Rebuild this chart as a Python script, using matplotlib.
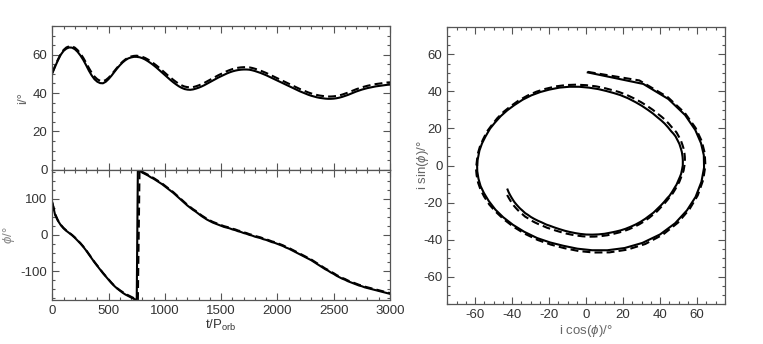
import numpy as np
import matplotlib
matplotlib.use("Agg")
import matplotlib.pyplot as plt
from matplotlib.ticker import MultipleLocator

plt.rcParams['font.family'] = ['Liberation Sans', 'DejaVu Sans']
plt.rcParams['mathtext.fontset'] = 'custom'
plt.rcParams['mathtext.rm'] = 'Liberation Sans'
plt.rcParams['mathtext.it'] = 'Liberation Sans:italic'
plt.rcParams['axes.unicode_minus'] = False

# sample times (t / P_orb); 750/760 bracket the phase wrap
t = [0, 25, 50, 75, 100, 125, 150, 175, 200, 225, 250, 275, 300, 325, 350, 375,
     400, 425, 450, 475, 500, 525, 550, 575, 600, 625, 650, 675, 700, 725, 750, 760,
     775, 800, 825, 850, 875, 900, 925, 950, 975, 1000, 1025, 1050, 1075, 1100, 1125,
     1150, 1175, 1200, 1225, 1250, 1275, 1300, 1325, 1350, 1375, 1400, 1425, 1450,
     1475, 1500, 1525, 1550, 1575, 1600, 1625, 1650, 1675, 1700, 1725, 1750, 1775,
     1800, 1825, 1850, 1875, 1900, 1925, 1950, 1975, 2000, 2025, 2050, 2075, 2100,
     2125, 2150, 2175, 2200, 2225, 2250, 2275, 2300, 2325, 2350, 2375, 2400, 2425,
     2450, 2475, 2500, 2525, 2550, 2575, 2600, 2625, 2650, 2675, 2700, 2725, 2750,
     2775, 2800, 2825, 2850, 2875, 2900, 2925, 2950, 2975, 3000]

# inclination (deg), solid curve
incl_solid = [50.3, 53.8, 57.1, 60.0, 62.0, 63.2, 63.8, 63.7, 62.9, 61.5, 59.6, 57.3,
              54.6, 51.7, 49.2, 47.2, 45.9, 45.2, 45.1, 45.9, 47.3, 49.0, 50.9, 52.8,
              54.5, 56.0, 57.2, 58.1, 58.6, 58.9, 58.9, 58.8,
              58.7, 58.2, 57.5, 56.6, 55.6, 54.5, 53.3, 52.0, 50.7, 49.4, 48.1, 46.8,
              45.6, 44.5, 43.5, 42.7, 42.1, 41.8, 41.7, 41.9, 42.3, 42.8, 43.4, 44.1,
              44.9, 45.7, 46.5, 47.3, 48.1, 48.8, 49.5, 50.2, 50.8, 51.3, 51.7, 52.0,
              52.2, 52.3, 52.3, 52.2, 51.9, 51.5, 51.0, 50.5, 49.9, 49.3, 48.6, 47.9,
              47.2, 46.5, 45.8, 45.1, 44.4, 43.7, 43.0, 42.3, 41.6, 40.9, 40.3, 39.7,
              39.1, 38.6, 38.2, 37.8, 37.5, 37.3, 37.1, 37.0, 37.0, 37.1, 37.3, 37.6,
              38.0, 38.5, 39.0, 39.6, 40.2, 40.8, 41.3, 41.8, 42.2, 42.6, 42.9, 43.2,
              43.5, 43.7, 43.9, 44.1, 44.3, 44.4]

# inclination (deg), dashed curve
incl_dashed = [50.6, 54.2, 57.5, 60.4, 62.5, 63.8, 64.4, 64.4, 63.7, 62.4, 60.6, 58.4,
               55.8, 53.1, 50.6, 48.6, 47.2, 46.4, 46.2, 46.8, 48.0, 49.6, 51.4, 53.2,
               54.9, 56.4, 57.6, 58.5, 59.1, 59.4, 59.5, 59.4,
               59.3, 58.9, 58.3, 57.5, 56.6, 55.5, 54.4, 53.2, 51.9, 50.6, 49.3, 48.1,
               46.9, 45.8, 44.8, 44.0, 43.4, 43.1, 43.0, 43.1, 43.5, 44.0, 44.6, 45.3,
               46.1, 46.9, 47.7, 48.5, 49.3, 50.0, 50.7, 51.4, 52.0, 52.5, 52.9, 53.2,
               53.4, 53.5, 53.5, 53.4, 53.1, 52.7, 52.2, 51.7, 51.1, 50.5, 49.8, 49.1,
               48.4, 47.7, 47.0, 46.3, 45.6, 44.9, 44.2, 43.5, 42.8, 42.1, 41.5, 40.9,
               40.3, 39.8, 39.4, 39.0, 38.7, 38.5, 38.3, 38.2, 38.2, 38.3, 38.5, 38.8,
               39.2, 39.7, 40.2, 40.8, 41.4, 42.0, 42.5, 43.0, 43.4, 43.8, 44.1, 44.4,
               44.7, 44.9, 45.1, 45.3, 45.5, 45.6]

# precession angle phi (deg), solid curve
phi_solid = [89, 55, 39, 27, 18, 11, 5, -1, -8, -16, -24, -33, -43, -54, -65, -76,
             -86, -96, -106, -115, -124, -133, -141, -148, -154, -160, -165, -169,
             -173, -177, -180, 180,
             177, 172, 168, 164, 159, 155, 150, 145, 140, 134, 128, 122, 116, 109, 102,
             95, 88, 81, 75, 69, 64, 58, 52, 47, 42, 38, 34, 31, 28, 25, 22, 20, 18,
             15, 13, 10, 8, 5, 3, 0, -2, -5, -7, -9, -12, -14, -17, -20, -22, -25,
             -28, -31, -35, -38, -42, -46, -50, -54, -58, -62, -66, -70, -75, -80,
             -85, -90, -95, -99, -104, -108, -113, -117, -121, -124, -128, -131, -134,
             -137, -140, -142, -145, -147, -149, -151, -153, -155, -157, -159, -161,
             -163]

# precession angle phi (deg), dashed curve
phi_dashed = [89, 58, 40, 28, 19, 12, 6, 0, -7, -15, -23, -32, -42, -53, -64, -75,
              -85, -95, -105, -114, -123, -132, -140, -147, -153, -158, -163, -167,
              -171, -175, -178, -180,
              180, 174, 170, 166, 161, 157, 152, 147, 142, 136, 130, 124, 118, 111,
              104, 97, 90, 83, 77, 71, 66, 60, 54, 49, 44, 40, 36, 33, 30, 27, 24, 22,
              20, 17, 15, 12, 10, 7, 5, 2, 0, -3, -5, -7, -10, -12, -15, -18, -20,
              -23, -26, -29, -33, -36, -40, -44, -48, -52, -56, -60, -64, -68, -73,
              -78, -83, -88, -93, -97, -102, -106, -111, -115, -119, -122, -126, -129,
              -132, -135, -138, -140, -143, -145, -147, -149, -151, -153, -155, -157,
              -159, -161]

W, H = 763, 344
fig = plt.figure(figsize=(W / 100, H / 100), dpi=100)

def px_axes(x0, y0, x1, y1):
    # axes from pixel box (top-left origin)
    return fig.add_axes([x0 / W, 1 - y1 / H, (x1 - x0) / W, (y1 - y0) / H])

ax_i = px_axes(52.3, 26, 390, 169.7)
ax_p = px_axes(52.3, 169.7, 390, 300)
ax_r = px_axes(447.3, 26.7, 725, 304.3)

edge = '#555555'
tickc = '#333333'
labc = '#666666'
lw = 1.5
dash = (3.8, 2.0)

def style(ax):
    for s in ax.spines.values():
        s.set_color(edge)
        s.set_linewidth(0.9)
    ax.tick_params(which='both', direction='in', top=True, right=True,
                   color=edge, labelcolor=tickc, labelsize=9.5, width=0.8)
    ax.tick_params(which='major', length=5)
    ax.tick_params(which='minor', length=2.5)

t_arr = np.array(t)
i_s = np.array(incl_solid)
i_d = np.array(incl_dashed)
p_s = np.array(phi_solid)
p_d = np.array(phi_dashed)

# inclination vs time
ax_i.plot(t_arr, i_s, color='black', lw=lw)
ax_i.plot(t_arr, i_d, color='black', lw=lw, dashes=dash)
ax_i.set_xlim(0, 3000)
ax_i.set_ylim(0, 75)
ax_i.xaxis.set_major_locator(MultipleLocator(500))
ax_i.xaxis.set_minor_locator(MultipleLocator(100))
ax_i.yaxis.set_major_locator(MultipleLocator(20))
ax_i.yaxis.set_minor_locator(MultipleLocator(5))
ax_i.tick_params(labelbottom=False)
style(ax_i)
ax_i.set_ylabel('i/°', color=labc, fontsize=9.5)
ax_i.yaxis.set_label_coords(-0.07, 0.5)

# precession angle vs time
ax_p.plot(t_arr, p_s, color='black', lw=lw)
ax_p.plot(t_arr, p_d, color='black', lw=lw, dashes=dash)
ax_p.set_xlim(0, 3000)
ax_p.set_ylim(-180, 180)
ax_p.xaxis.set_major_locator(MultipleLocator(500))
ax_p.xaxis.set_minor_locator(MultipleLocator(100))
ax_p.set_yticks([-100, 0, 100])
ax_p.yaxis.set_minor_locator(MultipleLocator(25))
style(ax_p)
ax_p.set_ylabel(r'$\phi$/°', color='#888888', fontsize=9.5)
ax_p.yaxis.set_label_coords(-0.105, 0.5)
ax_p.set_xlabel(r't/P$_{\mathrm{orb}}$', color=tickc, fontsize=9.5)
ax_p.xaxis.set_label_coords(0.5, -0.135)

# polar projection
ax_r.plot(i_s * np.cos(np.radians(p_s)), i_s * np.sin(np.radians(p_s)),
          color='black', lw=lw)
ax_r.plot(i_d * np.cos(np.radians(p_d)), i_d * np.sin(np.radians(p_d)),
          color='black', lw=lw, dashes=dash)
ax_r.set_xlim(-75, 75)
ax_r.set_ylim(-75, 75)
for a in (ax_r.xaxis, ax_r.yaxis):
    a.set_major_locator(MultipleLocator(20))
    a.set_minor_locator(MultipleLocator(5))
style(ax_r)
ax_r.set_xlabel(r'i cos($\phi$)/°', color=labc, fontsize=9.5)
ax_r.xaxis.set_label_coords(0.5, -0.068)
ax_r.set_ylabel(r'i sin($\phi$)/°', color=labc, fontsize=9.5)
ax_r.yaxis.set_label_coords(-0.058, 0.5)

fig.savefig('out.png', dpi=100)
